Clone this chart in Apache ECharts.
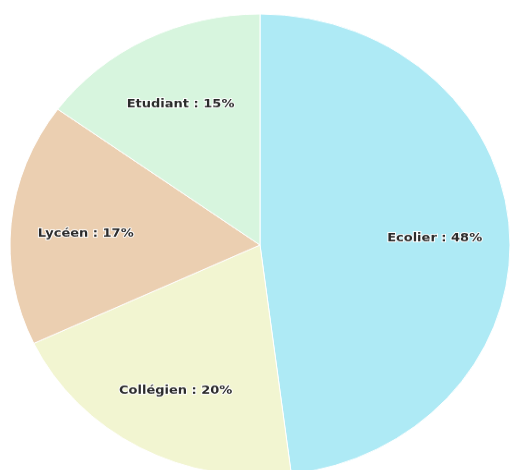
<!DOCTYPE html>
<html><head><meta charset="utf-8">
<script src="https://cdn.jsdelivr.net/npm/echarts@6/dist/echarts.min.js"></script>
<style>html,body{margin:0;padding:0;background:#fff;overflow:hidden;width:510px;height:470px;position:relative}
#c{position:absolute;left:0;top:-15px;width:510px;height:520px;transform:scaleY(0.924);transform-origin:260px 260px}</style>
</head><body><div id="c"></div>
<script>
const categories = ['Ecolier', 'Collégien', 'Lycéen', 'Etudiant'];
const values = [48, 20, 17, 15];
const colors = ['#aeeaf5', '#f2f5d1', '#ebcfb1', '#d7f5de'];

const chart = echarts.init(document.getElementById('c'));
const data = categories.map((n, i) => ({ name: n, value: values[i], itemStyle: { color: colors[i] } }));
const labelData = categories.map((n, i) => ({ name: n, value: values[i] }));
chart.setOption({
  animation: false,
  series: [
    {
      type: 'pie', center: [260, 260], radius: [0, 250], startAngle: 90, clockwise: true,
      silent: true, label: { show: false }, labelLine: { show: false },
      itemStyle: { borderColor: '#ffffff', borderWidth: 1 },
      data: data
    },
    {
      type: 'pie', center: [260, 260], radius: [94, 250], startAngle: 90, clockwise: true,
      silent: true, itemStyle: { color: 'rgba(0,0,0,0)', borderWidth: 0 },
      label: {
        show: true, position: 'inside', formatter: '{b} : {c}%', offset: [0, 4],
        fontFamily: 'DejaVu Sans', fontSize: 13, fontWeight: 'bold', color: '#2b2b2b',
        textBorderColor: '#ffffff', textBorderWidth: 2
      },
      labelLine: { show: false },
      data: labelData
    }
  ]
});
</script></body></html>
